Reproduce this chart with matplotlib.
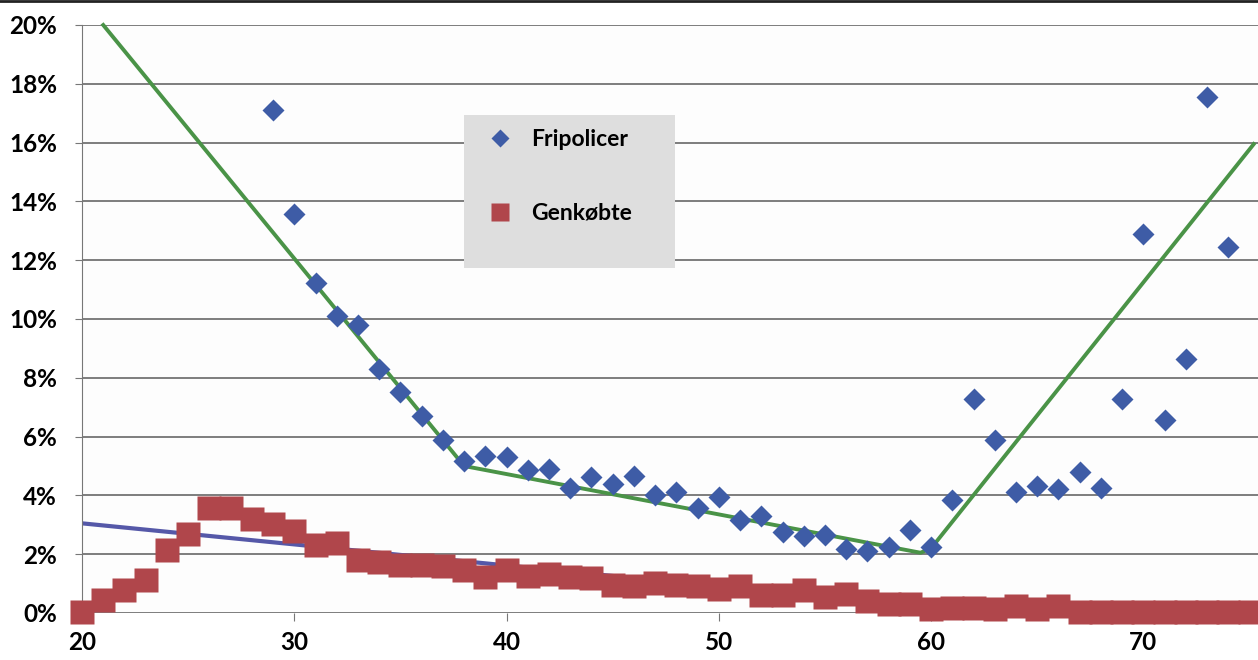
import matplotlib.pyplot as plt
from matplotlib.lines import Line2D
from matplotlib.patches import Rectangle
from matplotlib.ticker import PercentFormatter

plt.rcParams['font.family'] = ['Lato', 'DejaVu Sans']

# Fripolicer (blue diamonds), age 29-74
frip_age = list(range(29, 75))
frip_pct = [17.1, 13.57, 11.22, 10.1, 9.8, 8.3, 7.52, 6.7, 5.88, 5.17,
            5.34, 5.3, 4.86, 4.9, 4.25, 4.63, 4.39, 4.66, 4.0, 4.12,
            3.57, 3.95, 3.16, 3.3, 2.76, 2.62, 2.65, 2.18, 2.1, 2.24,
            2.82, 2.24, 3.84, 7.28, 5.88, 4.12, 4.32, 4.22, 4.8, 4.25,
            7.28, 12.89, 6.56, 8.64, 17.55, 12.45]

# Genkøbte (red squares), age 20-75
genk_age = list(range(20, 76))
genk_pct = [0.03, 0.44, 0.78, 1.12, 2.14, 2.69, 3.57, 3.57, 3.2, 3.03,
            2.79, 2.31, 2.38, 1.8, 1.73, 1.63, 1.63, 1.6, 1.46, 1.22,
            1.46, 1.26, 1.33, 1.22, 1.19, 0.95, 0.92, 1.02, 0.95, 0.92,
            0.82, 0.92, 0.61, 0.61, 0.78, 0.54, 0.65, 0.41, 0.31, 0.31,
            0.14, 0.17, 0.17, 0.14, 0.24, 0.14, 0.24, 0.03, 0.03, 0.03,
            0.03, 0.03, 0.03, 0.03, 0.03, 0.03]

# piecewise trend for Fripolicer
trend_age = [21, 38, 59.5, 60, 75.2]
trend_pct = [20.0, 5.0, 2.05, 2.2, 15.95]

# linear trend for Genkøbte
gtrend_age = [20, 57]
gtrend_pct = [3.05, 0.4]

fig = plt.figure(figsize=(12.58, 6.6), dpi=100)
ax = fig.add_axes([82 / 1258, 47 / 660, 1 - 82 / 1258, 588 / 660])
ax.set_facecolor('#fdfdfd')

ax.set_xlim(20, 75.4)
ax.set_ylim(0, 20)
ax.set_yticks(range(0, 21, 2))
ax.set_xticks([20, 30, 40, 50, 60, 70])
ax.yaxis.set_major_formatter(PercentFormatter(decimals=0))
ax.grid(axis='y', color='#5a5a5a', lw=1.1)
ax.set_axisbelow(True)
for s in ['top', 'right', 'bottom']:
    ax.spines[s].set_visible(False)
ax.spines['left'].set_color('#777777')
ax.tick_params(axis='y', length=5, color='#777777', labelsize=17.5, pad=13)
ax.tick_params(axis='x', length=6, color='#777777', labelsize=17.5, pad=7)
for lab in ax.get_xticklabels() + ax.get_yticklabels():
    lab.set_fontweight('bold')

ax.plot(gtrend_age, gtrend_pct, color='#5558a8', lw=3, zorder=2)
ax.plot(genk_age, genk_pct, ls='none', marker='s', ms=17,
        color='#b0464b', mec='none', zorder=3, clip_on=False)
ax.plot(trend_age, trend_pct, color='#4a9347', lw=2.8, zorder=4,
        clip_on=False)
ax.plot(frip_age, frip_pct, ls='none', marker='D', ms=11.5,
        color='#3e5ca6', mec='none', zorder=5, clip_on=False)

# legend box (grey panel) drawn separately so its size matches the original
ax.add_patch(Rectangle(((464 - 82) / 1176, (613 - 268) / 588),
                       (675 - 464) / 1176, (268 - 115) / 588,
                       transform=ax.transAxes, facecolor='#dedede',
                       edgecolor='none', zorder=6))
handles = [Line2D([], [], ls='none', marker='D', ms=9, color='#3e5ca6', mec='none'),
           Line2D([], [], ls='none', marker='s', ms=13, color='#b0464b', mec='none')]
leg = ax.legend(handles, ['Fripolicer', 'Genkøbte'], loc='upper left',
                bbox_to_anchor=((464 - 82) / 1176, (613 - 112) / 588),
                prop={'size': 16.5, 'weight': 'bold'}, labelspacing=2.3,
                borderpad=0.75, handletextpad=0.6, handlelength=1.6,
                borderaxespad=0, frameon=False)
leg.set_zorder(7)

fig.add_artist(Line2D([0, 1], [0.998, 0.998], color='#222222', lw=2))

fig.savefig('out.png', dpi=100)
